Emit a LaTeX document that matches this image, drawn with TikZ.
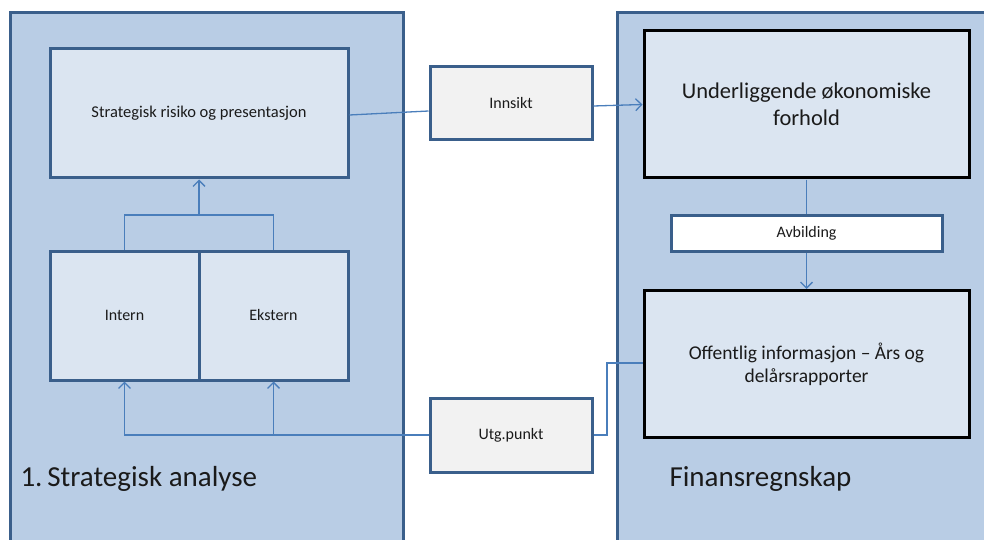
\documentclass[tikz,border=0pt]{standalone}
\usepackage{fontspec}
\setmainfont{Carlito}
\usetikzlibrary{arrows.meta,calc}

\definecolor{panelfill}{HTML}{B9CDE5}
\definecolor{paneledge}{HTML}{3A5F8B}
\definecolor{boxfill}{HTML}{DBE5F1}
\definecolor{greyfill}{HTML}{F2F2F2}
\definecolor{linkblue}{HTML}{4A7EBB}
\definecolor{ink}{HTML}{1A1A1A}

\tikzset{
  panel/.style={fill=panelfill, draw=paneledge, line width=3pt},
  bluebox/.style={rectangle, fill=boxfill, draw=paneledge, line width=3pt,
    inner sep=0pt, text=ink, font=\fontsize{16}{19}\selectfont, align=center},
  blackbox/.style={rectangle, fill=boxfill, draw=black, line width=3pt,
    inner sep=0pt, text=ink, align=center},
  greybox/.style={rectangle, fill=greyfill, draw=paneledge, line width=3pt,
    inner sep=0pt, text=ink, font=\fontsize{16}{19}\selectfont},
  whitebox/.style={rectangle, fill=white, draw=paneledge, line width=3pt,
    inner sep=0pt, text=ink, font=\fontsize{16}{19}\selectfont},
  conn/.style={draw=linkblue, line width=1.3pt},
  tip/.style={-{Straight Barb[length=6pt,width=12pt,line width=1.3pt]}},
  title/.style={anchor=west, text=ink, font=\fontsize{29}{34}\selectfont}
}

\begin{document}
\begin{tikzpicture}[x=1pt,y=-1pt]
\useasboundingbox (0,0) rectangle (984,540);

% background panels
\draw[panel] (10,13) rectangle (403,560);
\draw[panel] (617,13) rectangle (1000,560);

% left panel: strategic analysis
\node[bluebox, minimum width=298pt, minimum height=129pt,
  font=\fontsize{16.5}{19}\selectfont] (srp) at (199,113.5)
  {Strategisk risiko og presentasjon};
\node[bluebox, minimum width=149pt, minimum height=129pt] (intern) at (124.5,315.5) {Intern};
\node[bluebox, minimum width=149pt, minimum height=129pt] (ekstern) at (273.5,315.5) {Ekstern};
\node[title] (lefttitle) at (17,479) {1.\,Strategisk analyse};

% middle boxes
\node[greybox, minimum width=162pt, minimum height=73pt] (innsikt) at (511,103.5) {Innsikt};
\node[greybox, minimum width=162pt, minimum height=74pt] (utg) at (511,435) {Utg.punkt};

% right panel: financial accounting
\node[blackbox, minimum width=325pt, minimum height=147pt,
  font=\fontsize{22.5}{27}\selectfont] (und) at (806.5,104.5)
  {Underliggende økonomiske\\forhold};
\node[whitebox, minimum width=271pt, minimum height=36pt] (avb) at (806.5,233) {Avbilding};
\node[blackbox, minimum width=325pt, minimum height=147pt,
  font=\fontsize{19.5}{23}\selectfont] (off) at (806.5,364)
  {Offentlig informasjon – Års og\\delårsrapporter};
\node[title] (righttitle) at (666,479) {Finansregnskap};

% connector coordinates
\coordinate (join) at (199,215);
\coordinate (ebase) at (ekstern.south |- utg.west);
\coordinate (bend) at (607,363);

% connectors
\draw[conn] (intern.north) |- (join) -| (ekstern.north);
\draw[conn, tip] (join) -- (srp.south);
\draw[conn, tip] (utg.west) -| (intern.south);
\draw[conn, tip] (ebase) -- (ekstern.south);
\draw[conn] (utg.east) -| (bend) -- (bend -| off.west);
\draw[conn] ($(srp.east)+(0,1.5)$) -- ($(innsikt.west)+(0,7.5)$);
\draw[conn, tip] ($(innsikt.east)+(0,2.5)$) -- (und.west);
\draw[conn] (und.south) -- (avb.north);
\draw[conn, tip] (avb.south) -- (off.north);
\end{tikzpicture}
\end{document}
